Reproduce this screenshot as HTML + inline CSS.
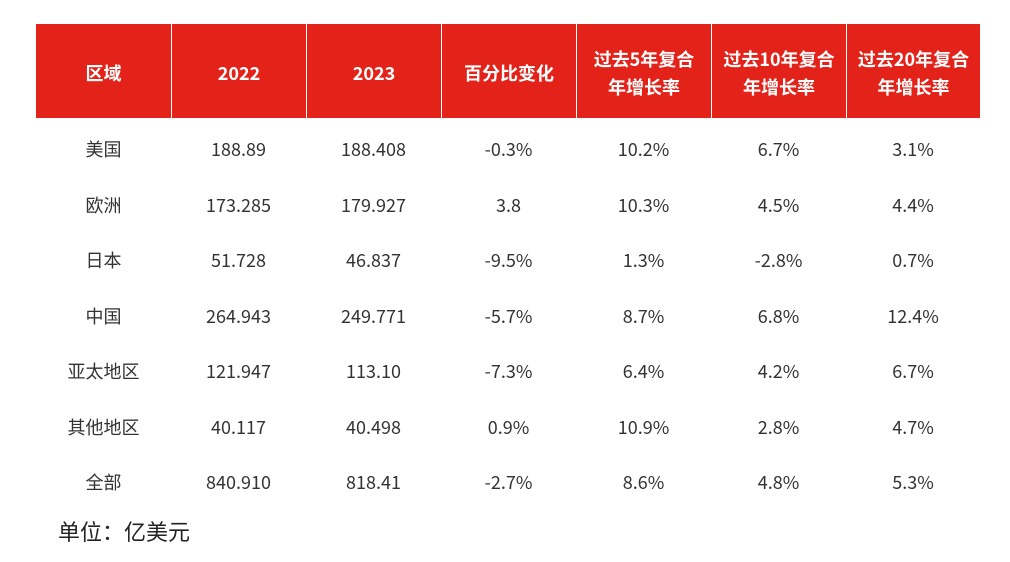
<!DOCTYPE html>
<html><head><meta charset="utf-8"><style>
body{margin:0;width:1010px;height:562px;background:#fff;font-family:"Noto Sans CJK SC","Liberation Sans",sans-serif;position:relative;overflow:hidden}
.hdr{position:absolute;top:24px;height:91px;padding-top:3px;background:#e3231a;color:#fff;font-weight:bold;font-size:18px;line-height:28px;display:flex;align-items:center;justify-content:center;text-align:center}
.c{position:absolute;height:55px;line-height:55px;text-align:center;font-size:18px;color:#333}
.unit{position:absolute;left:58px;top:515px;font-size:22px;line-height:32px;color:#222}
</style></head><body>
<div id="t"></div>
<div class="unit">单位：亿美元</div>
<script>
var xs=[36,171,306,441,576,711,846,980];
var H=["区域","2022","2023","百分比变化","过去5年复合<br>年增长率","过去10年复合<br>年增长率","过去20年复合<br>年增长率"];
var R=[["美国","188.89","188.408","-0.3%","10.2%","6.7%","3.1%"],
["欧洲","173.285","179.927","3.8","10.3%","4.5%","4.4%"],
["日本","51.728","46.837","-9.5%","1.3%","-2.8%","0.7%"],
["中国","264.943","249.771","-5.7%","8.7%","6.8%","12.4%"],
["亚太地区","121.947","113.10","-7.3%","6.4%","4.2%","6.7%"],
["其他地区","40.117","40.498","0.9%","10.9%","2.8%","4.7%"],
["全部","840.910","818.41","-2.7%","8.6%","4.8%","5.3%"]];
var h="";
for(var i=0;i<7;i++){var l=xs[i]+(i?1:0),w=xs[i+1]-l;
h+='<div class="hdr" style="left:'+l+'px;width:'+w+'px">'+H[i]+'</div>';
for(var r=0;r<7;r++){h+='<div class="c" style="left:'+xs[i]+'px;width:'+(xs[i+1]-xs[i])+'px;top:'+(122+r*55.5)+'px">'+R[r][i]+'</div>';}}
document.getElementById("t").innerHTML=h;
</script>
</body></html>
